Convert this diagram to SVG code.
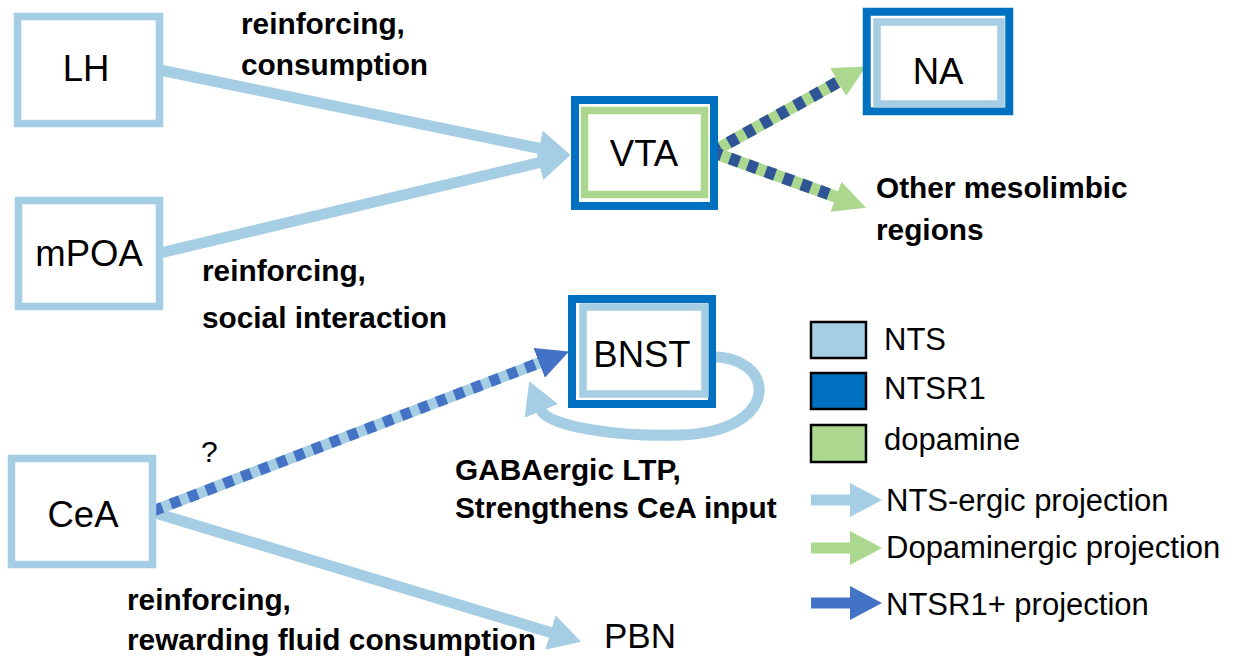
<svg xmlns="http://www.w3.org/2000/svg" width="1247" height="663" viewBox="0 0 1247 663">
<style>
text{font-family:"Liberation Sans",Arial,sans-serif;fill:#000}
.node{font-size:36.5px;text-anchor:middle}
.lbl{font-size:29.8px;font-weight:bold}
.leg{font-size:31px}
.nts{fill:#fff;stroke:#A5CDE3;stroke-width:7.5}
.ntsr{fill:#fff;stroke:#0070C0;stroke-width:8}
.da{fill:none;stroke:#ABD88E;stroke-width:7.5}
.lb{fill:none;stroke:#A5CDE3;stroke-width:11}
.gr{fill:none;stroke:#ABD88E;stroke-width:12}
.dash1{fill:none;stroke:#2F5597;stroke-width:12;stroke-dasharray:10 9}
.dash2{fill:none;stroke:#4472C4;stroke-width:11;stroke-dasharray:10 9}
.sw{stroke:#000;stroke-width:2.5}
</style>
<defs>
<marker id="hLB" viewBox="0 0 32 36" markerWidth="32" markerHeight="36" refX="1" refY="18" orient="auto" markerUnits="userSpaceOnUse"><path d="M0,0 L32,18 L0,36 z" fill="#A5CDE3"/></marker>
<marker id="hGR" viewBox="0 0 32 32" markerWidth="32" markerHeight="32" refX="1" refY="16" orient="auto" markerUnits="userSpaceOnUse"><path d="M0,0 L32,16 L0,32 z" fill="#ABD88E"/></marker>
<marker id="hDB" viewBox="0 0 32 32" markerWidth="32" markerHeight="32" refX="1" refY="16" orient="auto" markerUnits="userSpaceOnUse"><path d="M0,0 L32,16 L0,32 z" fill="#4472C4"/></marker>
<marker id="lLB" viewBox="0 0 32 34" markerWidth="32" markerHeight="34" refX="1" refY="17" orient="auto" markerUnits="userSpaceOnUse"><path d="M0,0 L32,17 L0,34 z" fill="#A5CDE3"/></marker>
<marker id="lGR" viewBox="0 0 32 34" markerWidth="32" markerHeight="34" refX="1" refY="17" orient="auto" markerUnits="userSpaceOnUse"><path d="M0,0 L32,17 L0,34 z" fill="#ABD88E"/></marker>
<marker id="lDB" viewBox="0 0 32 34" markerWidth="32" markerHeight="34" refX="1" refY="17" orient="auto" markerUnits="userSpaceOnUse"><path d="M0,0 L32,17 L0,34 z" fill="#4472C4"/></marker>
</defs>
<rect width="1247" height="663" fill="#fff"/>
<g id="connectors">
<line class="lb" x1="160" y1="70" x2="540" y2="148.5" marker-end="url(#hLB)"/>
<line class="lb" x1="160" y1="253" x2="540" y2="162.4" marker-end="url(#hLB)"/>
<line class="lb" x1="152" y1="512" x2="551.4" y2="632.7" marker-end="url(#hLB)"/>
<line class="lb" x1="153" y1="511" x2="540.1" y2="362.5" marker-end="url(#hDB)"/>
<line class="dash2" x1="153" y1="511" x2="540.1" y2="362.5"/>
<line class="gr" x1="712" y1="152" x2="839" y2="81.5" marker-end="url(#hGR)"/>
<line class="dash1" x1="712" y1="152" x2="839" y2="81.5"/>
<line class="gr" x1="712" y1="152" x2="836.9" y2="197.1" marker-end="url(#hGR)"/>
<line class="dash1" x1="712" y1="152" x2="836.9" y2="197.1"/>
<path class="lb" d="M705 357 C778 352 784 432 680 435 C620 437 548 427 541 410" marker-end="url(#hLB)"/>
</g>
<g id="node-LH"><rect class="nts" x="17.5" y="16.5" width="142" height="107"/><text class="node" x="86" y="81">LH</text></g>
<g id="node-mPOA"><rect class="nts" x="18.5" y="200.5" width="141" height="106"/><text class="node" x="89" y="266">mPOA</text></g>
<g id="node-CeA"><rect class="nts" x="11.5" y="458.5" width="141" height="106"/><text class="node" x="83" y="527">CeA</text></g>
<g id="node-VTA"><rect class="ntsr" x="575" y="100" width="139" height="106"/><rect class="da" x="584.5" y="110.5" width="120" height="84"/><text class="node" x="644" y="166">VTA</text></g>
<g id="node-NA"><rect class="ntsr" x="866.75" y="11.75" width="142.5" height="99.5"/><rect class="nts" x="877" y="22" width="124" height="82"/><text class="node" x="938" y="84">NA</text></g>
<g id="node-BNST"><rect class="ntsr" x="572" y="299" width="140" height="105"/><rect class="nts" x="583" y="307" width="122" height="87"/><text class="node" x="642" y="367">BNST</text></g>
<g id="node-PBN"><text class="node" x="640" y="648" style="font-size:35px">PBN</text></g>
<g id="labels">
<text class="lbl" x="241" y="34">reinforcing,</text>
<text class="lbl" x="241" y="75">consumption</text>
<text class="lbl" x="202" y="281">reinforcing,</text>
<text class="lbl" x="202" y="328">social interaction</text>
<text class="lbl" x="876" y="198">Other mesolimbic</text>
<text class="lbl" x="876" y="240">regions</text>
<text x="201" y="462" style="font-size:30px">?</text>
<text class="lbl" x="455" y="480">GABAergic LTP,</text>
<text class="lbl" x="455" y="518">Strengthens CeA input</text>
<text class="lbl" x="127" y="610">reinforcing,</text>
<text class="lbl" x="127" y="650">rewarding fluid consumption</text>
</g>
<g id="legend">
<rect class="sw" x="811" y="322" width="55" height="36" fill="#A5CDE3"/>
<rect class="sw" x="811" y="373" width="55" height="36" fill="#0070C0"/>
<rect class="sw" x="811" y="425" width="55" height="37" fill="#ABD88E"/>
<text class="leg" x="884" y="350">NTS</text>
<text class="leg" x="884" y="399">NTSR1</text>
<text class="leg" x="884" y="450">dopamine</text>
<line x1="811" y1="500" x2="851" y2="500" stroke="#A5CDE3" stroke-width="11" marker-end="url(#lLB)"/>
<line x1="811" y1="548" x2="851" y2="548" stroke="#ABD88E" stroke-width="11" marker-end="url(#lGR)"/>
<line x1="811" y1="603" x2="851" y2="603" stroke="#4472C4" stroke-width="11" marker-end="url(#lDB)"/>
<text class="leg" x="886" y="511">NTS-ergic projection</text>
<text class="leg" x="886" y="558">Dopaminergic projection</text>
<text class="leg" x="886" y="615">NTSR1+ projection</text>
</g>
</svg>
